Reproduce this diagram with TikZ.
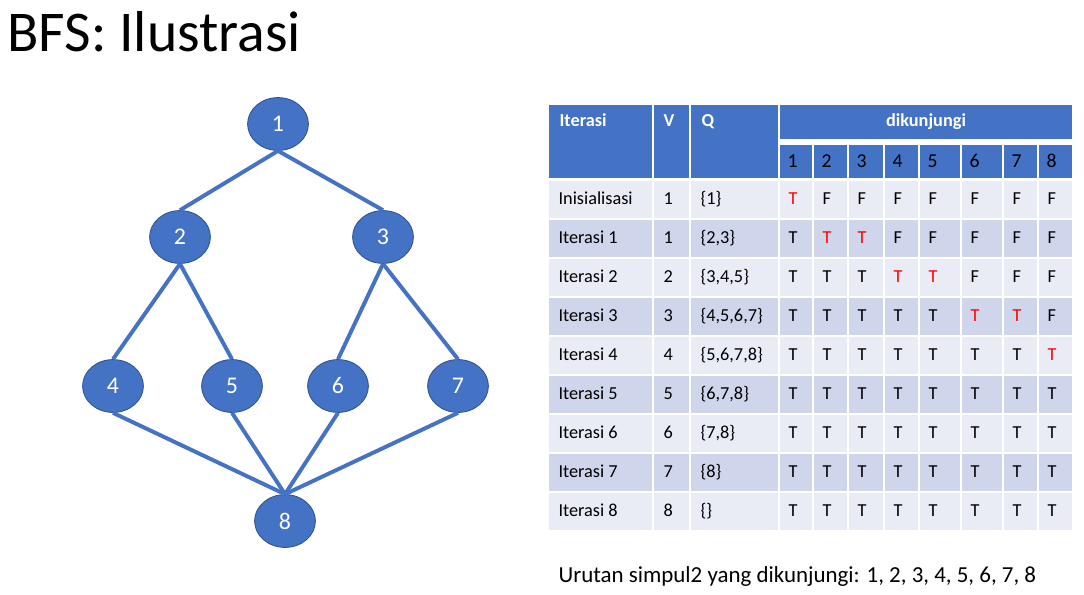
\documentclass[tikz,border=0pt]{standalone}
\usepackage{fontspec}
\setmainfont{Carlito}
\usetikzlibrary{shapes.geometric}

\definecolor{nodeblue}{HTML}{4472C4}
\definecolor{nodeline}{HTML}{2F528F}
\definecolor{rowlight}{HTML}{E9EBF5}
\definecolor{rowdark}{HTML}{CFD5EA}

\newcommand\baru{\textcolor{red}{T}}

\begin{document}
\begin{tikzpicture}[x=0.025cm, y=-0.025cm, thick,
                    main node/.style={ellipse,draw=nodeline,fill=nodeblue,line width=0.6pt,
                                      minimum width=1.52cm,minimum height=1.32cm,inner sep=0pt,
                                      text=white,font=\fontsize{17}{19}\selectfont},
                    link/.style={draw=nodeblue,line width=2.8pt},
                    head/.style={fill=nodeblue,draw=white,line width=1pt},
                    cell/.style={draw=white,line width=1pt},
                    txt/.style={anchor=base west,inner sep=0pt,font=\fontsize{13}{15}\selectfont},
                    headtxt/.style={txt,text=white,font=\fontsize{13}{15}\selectfont\bfseries}]

  \useasboundingbox (0,0) rectangle (1084,594);

  \node[anchor=base west,inner sep=0pt,font=\fontsize{41}{49}\selectfont] (title) at (7,51) {BFS: Ilustrasi};

  % graph
  \node[main node] (1) at (278,124) {1};
  \node[main node] (2) at (180,237) {2};
  \node[main node] (3) at (383,237) {3};
  \node[main node] (4) at (113,386) {4};
  \node[main node] (5) at (232,386) {5};
  \node[main node] (6) at (338,386) {6};
  \node[main node] (7) at (458,386) {7};
  \node[main node] (8) at (285,521) {8};

  \path[link]
    (1.south) edge (2.north)
              edge (3.north)
    (2.south) edge (4.north)
              edge (5.north)
    (3.south) edge (6.north)
              edge (7.north)
    (4.south) edge (8.north)
    (5.south) edge (8.north)
    (6.south) edge (8.north)
    (7.south) edge (8.north);

  % table header
  \draw[head] (548,104) rectangle (653,179);
  \draw[head] (653,104) rectangle (690,179);
  \draw[head] (690,104) rectangle (779,179);
  \draw[head] (779,104) rectangle (1073,140);
  \node[headtxt] (hiter) at (559,126) {Iterasi};
  \node[headtxt] (hv) at (663,126) {V};
  \node[headtxt] (hq) at (701,126) {Q};
  \node[headtxt,anchor=base] (hvisit) at (926,126) {dikunjungi};

  \foreach \k/\xl/\xr in {1/779/813,2/813/848,3/848/884,4/884/919,
                          5/919/961,6/961/1003,7/1003/1038,8/1038/1073}{
    \coordinate (L\k) at (\xl,0);
    \coordinate (R\k) at (\xr,0);
    \coordinate (t\k) at (\xl+9,0);
    \draw[head] (\xl,144) rectangle (\xr,179);
    \node[txt,font=\fontsize{14}{16}\selectfont] (h\k) at (\xl+8,167) {\k};
  }

  % table rows
  \foreach \lbl/\vv/\qq/\vals/\fc [count=\i] in {
      Inisialisasi/1/{\{1\}}/{\baru,F,F,F,F,F,F,F}/rowlight,
      Iterasi 1/1/{\{2,3\}}/{T,\baru,\baru,F,F,F,F,F}/rowdark,
      Iterasi 2/2/{\{3,4,5\}}/{T,T,T,\baru,\baru,F,F,F}/rowlight,
      Iterasi 3/3/{\{4,5,6,7\}}/{T,T,T,T,T,\baru,\baru,F}/rowdark,
      Iterasi 4/4/{\{5,6,7,8\}}/{T,T,T,T,T,T,T,\baru}/rowlight,
      Iterasi 5/5/{\{6,7,8\}}/{T,T,T,T,T,T,T,T}/rowdark,
      Iterasi 6/6/{\{7,8\}}/{T,T,T,T,T,T,T,T}/rowlight,
      Iterasi 7/7/{\{8\}}/{T,T,T,T,T,T,T,T}/rowdark,
      Iterasi 8/8/{\{\}}/{T,T,T,T,T,T,T,T}/rowlight}{
    \pgfmathsetmacro\ty{180+39*(\i-1)}
    \pgfmathsetmacro\tb{\ty+39}
    \pgfmathsetmacro\yb{\ty+24}
    \draw[cell,fill=\fc] (548,\ty) rectangle (653,\tb);
    \draw[cell,fill=\fc] (653,\ty) rectangle (690,\tb);
    \draw[cell,fill=\fc] (690,\ty) rectangle (779,\tb);
    \node[txt] (it\i) at (558,\yb) {\lbl};
    \node[txt] (v\i) at (663,\yb) {\vv};
    \node[txt] (q\i) at (700,\yb) {\qq};
    \foreach \val [count=\k] in \vals {
      \draw[cell,fill=\fc] (L\k |- 0,\ty) rectangle (R\k |- 0,\tb);
      \node[txt] (c\i-\k) at (t\k |- 0,\yb) {\val};
    }
  }

  \node[anchor=base west,inner sep=0pt,font=\fontsize{16.3}{19}\selectfont] (urutan) at (558,582)
    {Urutan simpul2 yang dikunjungi: 1, 2, 3, 4, 5, 6, 7, 8};
\end{tikzpicture}
\end{document}
